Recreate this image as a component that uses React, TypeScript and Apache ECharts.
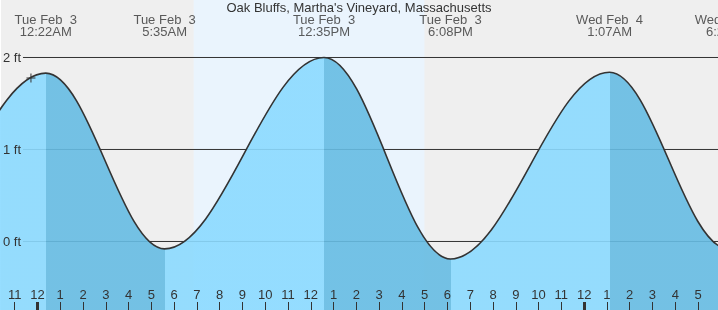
import React, { useEffect, useRef } from "react";
import * as echarts from "echarts";

const TITLE = "Oak Bluffs, Martha's Vineyard, Massachusetts";
const FONT = "'Liberation Sans', Arial, sans-serif";

// Tide events, hours after Tue Feb 3 00:00 (local)
const eventHours = [-12.6, -6.3, 0.367, 5.583, 12.583, 18.133, 25.117, 30.33, 37.7];
const eventHeights = [1.95, -0.05, 1.83, -0.08, 2.0, -0.19, 1.84, -0.08, 1.95];
const eventDays = ["Mon Feb  2", "Mon Feb  2", "Tue Feb  3", "Tue Feb  3", "Tue Feb  3", "Tue Feb  3", "Wed Feb  4", "Wed Feb  4", "Wed Feb  4"];
const eventTimes = ["11:24AM", "5:42PM", "12:22AM", "5:35AM", "12:35PM", "6:08PM", "1:07AM", "6:20AM", "1:42PM"];

// Current time marker
const nowHour = -0.285;
const nowHeight = 1.777;

// Daylight
const sunrise = 6.86;
const sunset = 16.99;

// Axes
const hourTicks = [-1, 0, 1, 2, 3, 4, 5, 6, 7, 8, 9, 10, 11, 12, 13, 14, 15, 16, 17, 18, 19, 20, 21, 22, 23, 24, 25, 26, 27, 28, 29];
const midnightTicks = [0, 24];
const ftTicks = [0, 1, 2];

const X_MIN = -1.6;
const X_MAX = 29.877;
const Y_MIN = -0.745;
const Y_MAX = 2.625;
const W = 718;
const H = 310;

const LIGHT = "#8bdaff";
const DARK = "#66bce3";
const INK = "#333333";

const xAtPx = (px: number) => X_MIN + (px / W) * (X_MAX - X_MIN);
const yAtPx = (py: number) => Y_MAX - (py / H) * (Y_MAX - Y_MIN);

const hourLabel = (v: number) => {
  const h = ((Math.round(v) % 12) + 12) % 12;
  return String(h === 0 ? 12 : h);
};

export default function App() {
  const ref = useRef<HTMLDivElement>(null);
  useEffect(() => {
    if (!ref.current) return;
    const chart = echarts.init(ref.current, undefined, { renderer: "svg" });

    const waterData = eventHours.map((t, i) => [t, eventHeights[i]]);
    const pieces: any[] = [];
    pieces.push({ lt: eventHours[0], color: eventHeights[0] > eventHeights[1] ? LIGHT : DARK });
    for (let i = 0; i < eventHours.length - 1; i++) {
      const falling = eventHeights[i] > eventHeights[i + 1];
      pieces.push({ gte: eventHours[i], lt: eventHours[i + 1], color: falling ? DARK : LIGHT });
    }
    const n = eventHours.length;
    pieces.push({ gte: eventHours[n - 1], color: eventHeights[n - 1] > eventHeights[n - 2] ? DARK : LIGHT });

    const gridStart = xAtPx(22);
    const gridSeries = ftTicks.map((v, i) => ({
      type: "line",
      data: [[gridStart, v], [X_MAX, v]],
      symbol: "none",
      silent: true,
      z: 2,
      lineStyle: { color: INK, width: 1 },
      ...(i === 0
        ? {
            markArea: {
              silent: true,
              itemStyle: { color: "#eaf4fd" },
              data: [[{ xAxis: sunrise }, { xAxis: sunset }]],
            },
          }
        : {}),
    }));

    const waterIndex = gridSeries.length;

    const labelY = yAtPx(25.5);
    // only the event labels that reach into the visible window
    const visibleEvents = eventHours
      .map((t, i) => i)
      .filter((i) => eventHours[i] > X_MIN - 1.2 && eventHours[i] < X_MAX + 1.2);

    chart.setOption({
      animation: false,
      title: {
        text: TITLE,
        left: "center",
        top: -4,
        textStyle: { fontSize: 13, fontWeight: "normal", color: INK, fontFamily: FONT },
      },
      grid: { left: 0, right: 0, top: 0, bottom: 0, show: true, backgroundColor: "#efefef", borderWidth: 0 },
      xAxis: [
        {
          type: "value",
          min: X_MIN,
          max: X_MAX,
          position: "bottom",
          z: 10,
          axisLine: { show: false, onZero: false },
          splitLine: { show: false },
          axisTick: { show: true, inside: true, length: 8, customValues: hourTicks, lineStyle: { color: INK, width: 1 } },
          axisLabel: {
            show: true,
            inside: true,
            margin: 9,
            customValues: hourTicks,
            formatter: hourLabel,
            color: INK,
            fontSize: 13,
            fontFamily: FONT,
          },
        },
        {
          type: "value",
          min: X_MIN,
          max: X_MAX,
          position: "bottom",
          z: 10,
          axisLine: { show: false, onZero: false },
          splitLine: { show: false },
          axisLabel: { show: false },
          axisTick: { show: true, inside: true, length: 8, customValues: midnightTicks, lineStyle: { color: INK, width: 3 } },
        },
      ],
      yAxis: {
        type: "value",
        min: Y_MIN,
        max: Y_MAX,
        position: "left",
        z: 10,
        axisLine: { show: false, onZero: false },
        axisTick: { show: false },
        splitLine: { show: false },
        axisLabel: {
          inside: true,
          margin: 2,
          customValues: ftTicks,
          formatter: (v: number) => `${v} ft`,
          color: INK,
          fontSize: 13,
          fontFamily: FONT,
        },
      },
      visualMap: {
        type: "piecewise",
        show: false,
        dimension: 0,
        seriesIndex: waterIndex,
        pieces,
      },
      series: [
        ...gridSeries,
        {
          type: "line",
          data: waterData,
          smooth: 0.36,
          smoothMonotone: "x",
          symbol: "none",
          showSymbol: false,
          silent: true,
          z: 3,
          lineStyle: { color: INK, width: 1.6 },
          areaStyle: { origin: "start", opacity: 0.9 },
        },
        {
          type: "scatter",
          data: [[nowHour, nowHeight]],
          symbol: "path://M4,0V8M0,4H8",
          symbolSize: 9,
          silent: true,
          z: 6,
          itemStyle: { color: "none", borderColor: INK, borderWidth: 1, opacity: 1 },
        },
        {
          type: "scatter",
          clip: false,
          silent: true,
          z: 6,
          symbolSize: 1,
          itemStyle: { color: "rgba(0,0,0,0)" },
          data: visibleEvents.map((i) => [eventHours[i], labelY]),
          label: {
            show: true,
            position: "inside",
            formatter: (p: any) => {
              const i = visibleEvents[p.dataIndex];
              return `${eventDays[i]}\n${eventTimes[i]}`;
            },
            fontSize: 13,
            lineHeight: 12,
            color: INK,
            fontFamily: FONT,
            align: "center",
          },
        },
      ],
    });
    return () => chart.dispose();
  }, []);
  return <div ref={ref} style={{ position: "fixed", left: 0, top: 0, width: W, height: H }} />;
}
